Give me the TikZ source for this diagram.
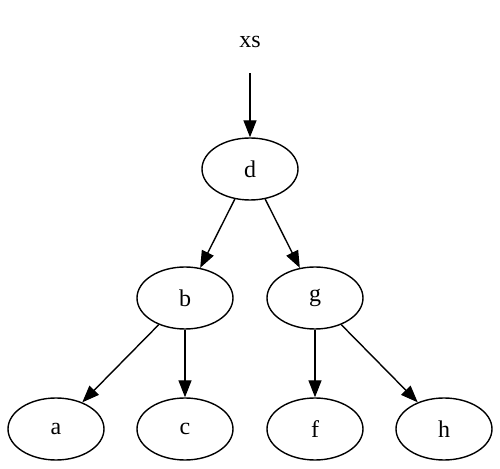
\documentclass[tikz,border=0pt]{standalone}
\usepackage{fontspec}
\setmainfont{Liberation Serif}
\usetikzlibrary{shapes.geometric,arrows.meta}
\begin{document}
\begin{tikzpicture}[x=1pt,y=1pt,
		tnode/.style = {draw,ellipse,line width=1.4pt,minimum width=96pt,minimum height=62pt,inner sep=0pt,font=\fontsize{24}{28}\selectfont},
		tlabel/.style = {rectangle,minimum width=96pt,minimum height=62pt,inner sep=0pt,font=\fontsize{24}{28}\selectfont},
		tedge/.style = {-{Triangle[length=17pt,width=13pt]},line width=1.4pt}]
			\useasboundingbox (0,0) rectangle (500,468);
			\node[tlabel] (xs) at (250,426) {xs};
			\node[tnode] (d) at (250,299) {d};
			\node[tnode] (b) at (185,170) {b};
			\node[tnode] (g) at (315,170) {g};
			\node[tnode] (a) at (56,39) {a};
			\node[tnode] (c) at (185,39) {c};
			\node[tnode] (f) at (315,39) {f};
			\node[tnode] (h) at (444,39) {h};
			
			\draw[tedge] (xs) -- (d);
			\draw[tedge] (d) -- (b);
			\draw[tedge] (d) -- (g);
			\draw[tedge] (b) -- (a);
			\draw[tedge] (b) -- (c);
			\draw[tedge] (g) -- (f);
			\draw[tedge] (g) -- (h);
		\end{tikzpicture}
\end{document}
